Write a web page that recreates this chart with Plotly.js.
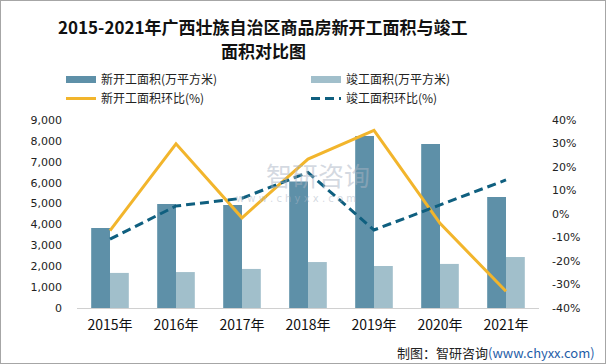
<!DOCTYPE html>
<html>
<head>
<meta charset="utf-8">
<script src="https://cdn.plot.ly/plotly-3.0.1.min.js"></script>
<style>
html,body{margin:0;padding:0;background:#fff;}
#chart{width:604px;height:362px;border:1px solid #a6a6a6;}
</style>
</head>
<body>
<div id="chart"></div>
<script>
var years = ['2015年','2016年','2017年','2018年','2019年','2020年','2021年'];
var newStart = [3830, 4980, 4930, 6050, 8230, 7850, 5310];
var completed = [1680, 1720, 1870, 2200, 2010, 2110, 2440];
var newStartRate = [-7.1, 29.9, -1.6, 23.4, 35.6, -4.0, -32.9];
var completedRate = [-10.7, 3.4, 6.7, 17.7, -6.8, 4.0, 14.5];
var leftTicks = [0,1000,2000,3000,4000,5000,6000,7000,8000,9000];
var rightTicks = [-40,-30,-20,-10,0,10,20,30,40];
var rightTickText = ['-40%','-30%','-20%','-10%','0%','10%','20%','30%','40%'];

var cDark = '#5e90a8', cLight = '#a1bfcb', cYellow = '#f2b52c', cBlue = '#0f5f7f';
var cjk = '"Noto Sans CJK SC", sans-serif';

var traces = [
  {type:'bar', x:years, y:newStart, marker:{color:cDark}, showlegend:false, hoverinfo:'y'},
  {type:'bar', x:years, y:completed, marker:{color:cLight}, showlegend:false, hoverinfo:'y'},
  {type:'scatter', mode:'lines', x:years, y:newStartRate, yaxis:'y2', line:{color:cYellow, width:3}, showlegend:false},
  {type:'scatter', mode:'lines', x:years, y:completedRate, yaxis:'y2', line:{color:cBlue, width:3, dash:'9px,5px'}, showlegend:false},
  // legend entries
  {type:'scatter', mode:'lines', x:[null], y:[null], name:'新开工面积(万平方米)', line:{color:cDark, width:7}},
  {type:'scatter', mode:'lines', x:[null], y:[null], name:'竣工面积(万平方米)', line:{color:cLight, width:7}},
  {type:'scatter', mode:'lines', x:[null], y:[null], name:'新开工面积环比(%)', line:{color:cYellow, width:3}},
  {type:'scatter', mode:'lines', x:[null], y:[null], name:'竣工面积环比(%)', line:{color:cBlue, width:3, dash:'9px,5px'}}
];

function py(p){ return (307 - p) / 188; }
function px(p){ return (p - 76) / 462; }

var layout = {
  width:604, height:362,
  margin:{l:76, r:66, t:119, b:55},
  paper_bgcolor:'#fff', plot_bgcolor:'#fff',
  barmode:'group', bargap:0.43, bargroupgap:0,
  font:{family:cjk, color:'#222'},
  xaxis:{
    type:'category', showgrid:false, showline:true, linecolor:'#d0d0d0', linewidth:1,
    ticks:'', tickfont:{family:cjk, size:14, color:'#111'}, ticklabelstandoff:4
  },
  yaxis:{
    range:[0,9000], tickvals:leftTicks, tickformat:',', showgrid:false, zeroline:false,
    showline:false, ticks:'', tickfont:{family:'"DejaVu Sans", sans-serif', size:11, color:'#222'},
    ticklabelstandoff:14
  },
  yaxis2:{
    overlaying:'y', side:'right', range:[-40,40], tickmode:'array', tickvals:rightTicks, ticktext:rightTickText,
    showgrid:false, zeroline:false, showline:false, ticks:'',
    tickfont:{family:'"DejaVu Sans", sans-serif', size:11, color:'#222'}, ticklabelstandoff:12
  },
  legend:{
    orientation:'h', x:px(60), xanchor:'left', y:py(64), yanchor:'top',
    entrywidth:200, font:{family:cjk, size:12, color:'#222'}, tracegroupgap:0,
    bgcolor:'rgba(0,0,0,0)'
  },
  annotations:[
    {xref:'paper', yref:'paper', x:px(262), y:py(25), xanchor:'center', yanchor:'middle', showarrow:false,
     text:'<b>2015-2021年广西壮族自治区商品房新开工面积与竣工</b>', font:{family:cjk, size:17, color:'#111'}},
    {xref:'paper', yref:'paper', x:px(262), y:py(49), xanchor:'center', yanchor:'middle', showarrow:false,
     text:'<b>面积对比图</b>', font:{family:cjk, size:17, color:'#111'}},
    {xref:'paper', yref:'paper', x:px(263), y:py(173), xanchor:'left', yanchor:'middle', showarrow:false,
     text:'智研咨询', font:{family:cjk, size:26, color:'rgba(170,180,195,0.5)'}},
    {xref:'paper', yref:'paper', x:px(233), y:py(197), xanchor:'left', yanchor:'middle', showarrow:false,
     text:'w w w . c h y x x . c o m', font:{family:'"DejaVu Sans", sans-serif', size:10, color:'rgba(170,180,195,0.5)'}},
    {xref:'paper', yref:'paper', x:px(596), y:py(351), xanchor:'right', yanchor:'middle', showarrow:false,
     text:'制图：智研咨询<span style="color:#1f5ea8">(www.chyxx.com)</span>', font:{family:cjk, size:13, color:'#222'}}
  ]
};

Plotly.newPlot('chart', traces, layout, {displayModeBar:false, staticPlot:true});
</script>
</body>
</html>
